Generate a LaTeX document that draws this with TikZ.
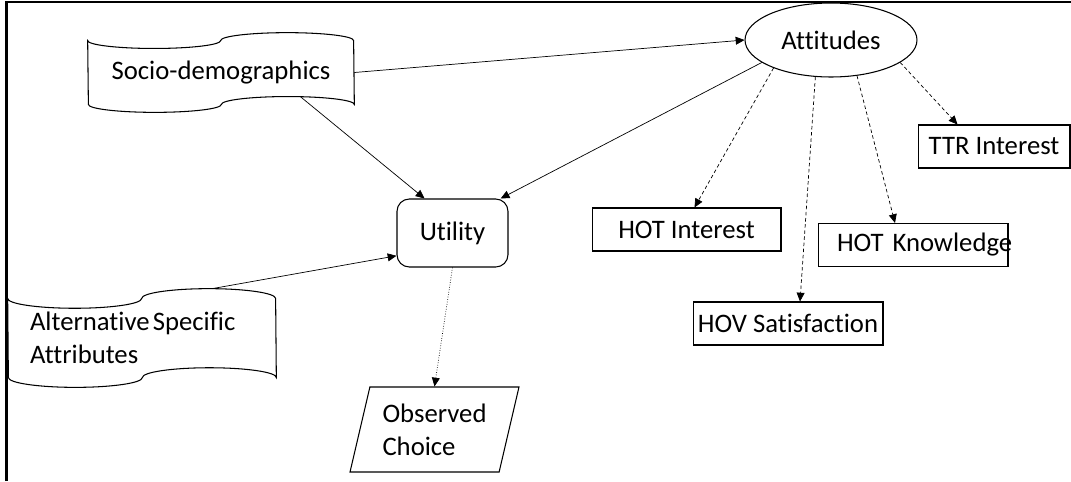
\documentclass[tikz,border=0pt]{standalone}
\usepackage{fontspec}
\setmainfont{Carlito}[Ligatures=NoCommon]
\usetikzlibrary{shapes.geometric,arrows.meta,calc}

\tikzset{
  every node/.style={font=\fontsize{15.2}{18.8}\selectfont},
  box/.style={draw, line width=0.6pt, rectangle, minimum height=0.86cm, inner sep=0pt},
  tapebox/.style={rectangle, inner sep=0pt},
  link/.style={-{Triangle[length=5pt,width=4.5pt]}, line width=0.4pt},
  dashlink/.style={link, dash pattern=on 2pt off 1.5pt}
}

\begin{document}
\begin{tikzpicture}[x=0.02cm, y=-0.02cm]
\useasboundingbox (0,0) rectangle (1071,481);
\draw[line width=1.5pt] (6.5,481) -- (6.5,2) -- (1071,2);

\node[tapebox, minimum width=5.32cm, minimum height=1.58cm] (socio) at (221,72.5) {Socio-demographics};
\node[tapebox, minimum width=5.36cm, minimum height=1.96cm, text width=4.48cm, align=left, inner xsep=0.44cm] (alt) at (142,338) {Alternative\hspace{0.12em}Specific\\Attributes};

% punched tape outlines
\foreach \n/\w/\h in {socio/5.32/1.58, alt/5.36/1.96}
  \draw[line width=0.6pt] ([yshift={-\h*0.1cm}]\n.north west)
    arc[start angle=180, end angle=360, x radius={\w*0.25cm}, y radius={\h*0.1cm}]
    arc[start angle=180, end angle=0, x radius={\w*0.25cm}, y radius={\h*0.1cm}]
    -- ([yshift={\h*0.1cm}]\n.south east)
    arc[start angle=0, end angle=180, x radius={\w*0.25cm}, y radius={\h*0.1cm}]
    arc[start angle=0, end angle=-180, x radius={\w*0.25cm}, y radius={\h*0.1cm}]
    -- cycle;

\node[draw, line width=0.6pt, rounded corners=7pt, minimum width=2.22cm, minimum height=1.36cm] (util) at (452.5,233) {Utility};
\node[draw, line width=0.6pt, trapezium, trapezium left angle=69, trapezium right angle=111, trapezium stretches body, minimum width=3.38cm, minimum height=1.7cm, align=left, inner sep=0pt] (obs) at (434.5,429.5) {Observed\\Choice};
\node[draw, line width=0.6pt, ellipse, minimum width=3.44cm, minimum height=1.48cm, inner sep=0pt] (att) at (831,40) {Attitudes};

\node[box, minimum width=3.78cm] (hoti) at (686.5,229.5) {HOT Interest};
\node[box, minimum width=3.8cm, text width=3.04cm, align=left, inner xsep=0.38cm] (hotk) at (913,245) {\mbox{HOT Knowledge}};
\node[box, minimum width=3.8cm] (hov) at (788,323.5) {HOV Satisfaction};
\node[box, minimum width=3.04cm] (ttr) at (994,146.5) {TTR Interest};

\draw[link] (socio.east) -- (att.west);
\draw[link] ($(socio.south)+(79,-16)$) -- ($(util.north west)!0.25!(util.north east)$);
\draw[link] (att.198) -- ($(util.north west)!0.93!(util.north east)$);
\draw[link] ($(alt.north)+(70,0)$) -- ($(util.south west)!0.17!(util.north west)$);
\draw[link, densely dotted] (util.south) -- (obs.north);

\draw[dashlink] (att.206) -- ($(hoti.north)+(8,0)$);
\draw[dashlink] (att.247) -- ($(hov.north)+(12,0)$);
\draw[dashlink] (att.306) -- ($(hotk.north)+(-18,0)$);
\draw[dashlink] (att.342) -- ($(ttr.north west)+(40,0)$);
\end{tikzpicture}
\end{document}
